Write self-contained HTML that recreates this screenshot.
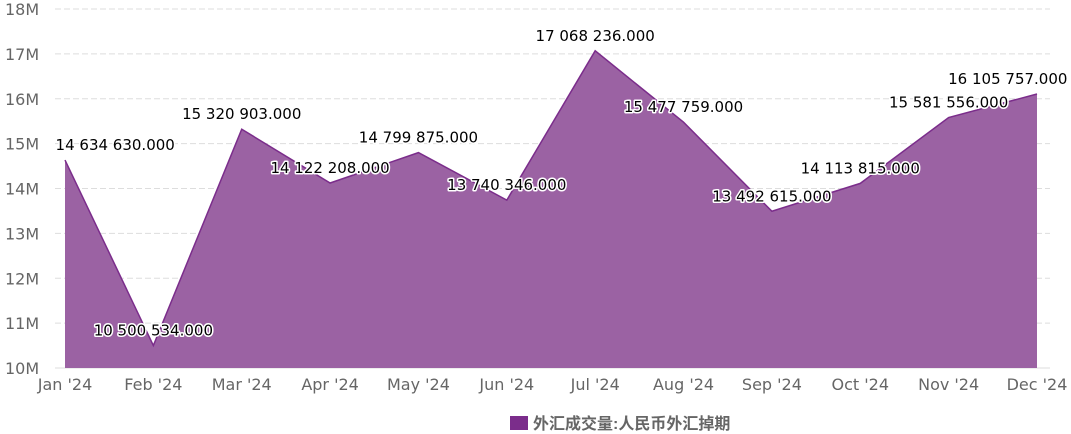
<!DOCTYPE html>
<html><head><meta charset="utf-8"><style>
html,body{margin:0;padding:0;background:#fff;width:1071px;height:434px;overflow:hidden}
svg{display:block;font-family:"DejaVu Sans","Liberation Sans","Noto Sans CJK SC",sans-serif}
</style></head><body>
<svg id="chart" width="1071" height="434"></svg>
<script>
const categories=["Jan '24","Feb '24","Mar '24","Apr '24","May '24","Jun '24","Jul '24","Aug '24","Sep '24","Oct '24","Nov '24","Dec '24"];
const values=[14634630,10500534,15320903,14122208,14799875,13740346,17068236,15477759,13492615,14113815,15581556,16105757];
const yTicks=[10,11,12,13,14,15,16,17,18];
const NS="http://www.w3.org/2000/svg";
const svg=document.getElementById('chart');
const x0=65,x1=1037,yTop=9,yBot=368,yMin=10e6,yMax=18e6;
const xs=i=>x0+(x1-x0)*i/(categories.length-1);
const ys=v=>yBot-(v-yMin)/(yMax-yMin)*(yBot-yTop);
function mk(t,a){const e=document.createElementNS(NS,t);for(const k in a)e.setAttribute(k,a[k]);svg.appendChild(e);return e;}
yTicks.forEach(t=>{
 const y=ys(t*1e6);
 const g=mk('line',{x1:55,x2:1050,y1:y,y2:y,stroke:'#ddd','stroke-dasharray':t===10?'none':'6,3'});
 
 
 const l=mk('text',{x:5,y:y+6,'font-size':16,fill:'#666'});l.textContent=t+'M';
 
 
});
let d='M'+xs(0)+','+yBot;
values.forEach((v,i)=>d+=' L'+xs(i)+','+ys(v));
d+=' L'+xs(values.length-1)+','+yBot+' Z';
const area=mk('path',{d:d,fill:'#9b62a3'});


const line=mk('polyline',{points:values.map((v,i)=>xs(i)+','+ys(v)).join(' '),fill:'none',stroke:'#7b2d8b','stroke-width':1.5});


categories.forEach((c,i)=>{
 const t=mk('text',{x:xs(i),y:390,'font-size':16,fill:'#666','text-anchor':'middle'});t.textContent=c;
 
 
});
const fmt=v=>String(v).replace(/\B(?=(\d{3})+(?!\d))/g,' ')+'.000';
values.forEach((v,i)=>{
 const s=fmt(v);const w=s.length*8.6;
 let cx=xs(i);cx=Math.max(cx,x0+w/2-10);cx=Math.min(cx,1068-w/2);
 const t=mk('text',{x:cx,y:ys(v)-10,'font-size':15,fill:'#000','text-anchor':'middle',stroke:'#fff','stroke-width':3,'paint-order':'stroke','stroke-linejoin':'round'});
 t.textContent=s;
 
 
});
const lr=mk('rect',{x:510,y:416,width:18,height:14,fill:'#7b2d8b'});


const lt=mk('text',{x:533,y:429,'font-size':16,fill:'#666','font-weight':'bold','font-family':'"Liberation Sans","Noto Sans CJK SC",sans-serif'});
lt.textContent='外汇成交量:人民币外汇掉期';


</script>
</body></html>
